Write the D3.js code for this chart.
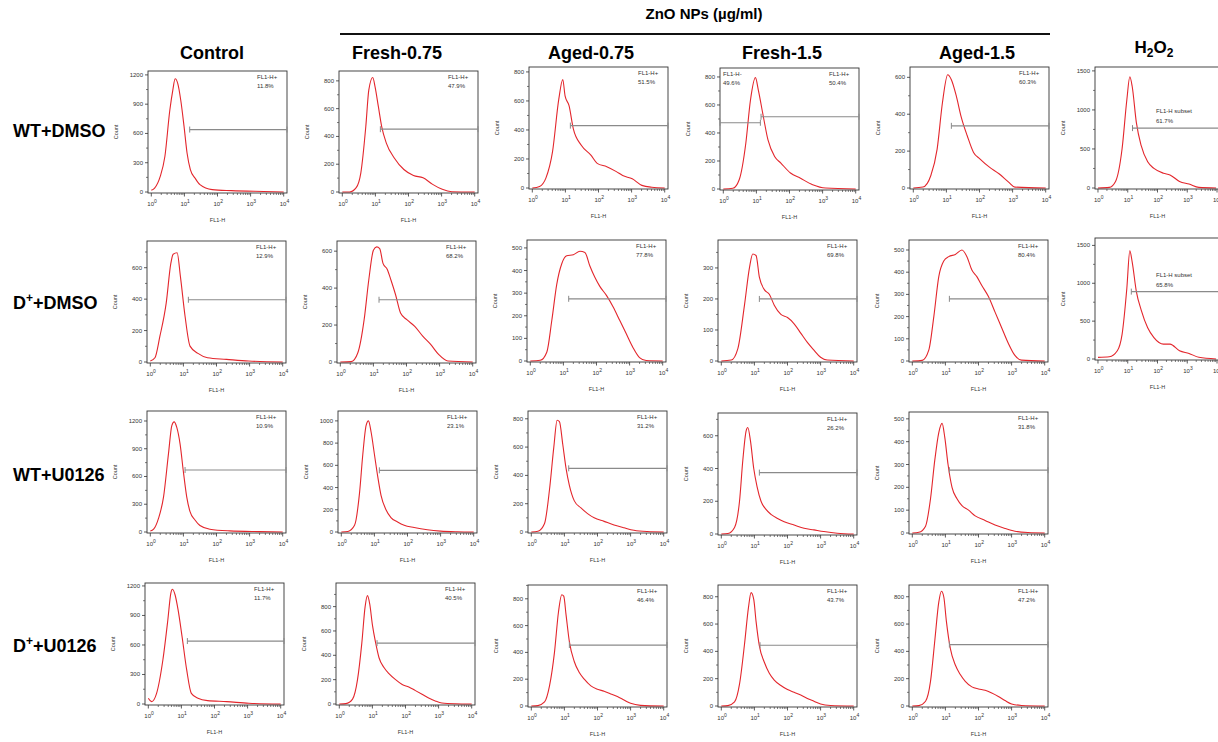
<!DOCTYPE html>
<html>
<head>
<meta charset="utf-8">
<script src="https://cdn.jsdelivr.net/npm/d3@7"></script>
<style>
  body { margin: 0; background: #fff; }
  text { font-family: "Liberation Sans", Arial, sans-serif; }
</style>
</head>
<body>
<script>
(function() {

    const width = 1218;
    const height = 742;

    // column / row headers
    const groupLabel = "ZnO NPs (µg/ml)";
    const colLabels = ["Control", "Fresh-0.75", "Aged-0.75", "Fresh-1.5", "Aged-1.5"];
    const rowLabels = [["WT", "", "+DMSO"], ["D", "+", "+DMSO"], ["WT", "", "+U0126"], ["D", "+", "+U0126"]];

    // histograms: [log10 FL1-H, count]
    const wtDmsoControl = [[0,17],[0.1,40],[0.27,160],[0.41,364],[0.56,840],[0.65,1044],[0.72,1160],[0.8,1110],[0.89,940],[0.99,670],[1.08,400],[1.18,230],[1.32,143],[1.47,75],[1.84,24],[2.42,14],[3.39,5],[4,0]];
    const wtDmsoFresh075 = [[0,0],[0.22,0],[0.42,31],[0.56,138],[0.71,471],[0.8,733],[0.92,824],[0.99,757],[1.09,614],[1.19,471],[1.33,352],[1.57,245],[1.86,162],[2.15,119],[2.44,102],[2.73,55],[3.02,19],[3.31,2],[4,0]];
    const wtDmsoAged075 = [[0,0],[0.22,11],[0.41,68],[0.61,249],[0.8,612],[0.92,748],[0.99,635],[1.11,567],[1.24,408],[1.48,295],[1.77,227],[1.96,170],[2.25,147],[2.54,113],[2.73,86],[3.02,63],[3.31,18],[3.61,5],[4,0]];
    const wtDmsoFresh15 = [[0,0],[0.29,5],[0.48,66],[0.68,327],[0.82,634],[0.97,795],[1.06,705],[1.21,516],[1.35,350],[1.55,232],[1.74,185],[2.03,114],[2.32,78],[2.7,31],[3.09,7],[4,0]];
    const wtDmsoAged15 = [[0,0],[0.29,5],[0.53,68],[0.72,211],[0.88,462],[1.04,614],[1.15,587],[1.3,498],[1.44,390],[1.63,283],[1.82,193],[2.01,158],[2.3,113],[2.59,77],[2.88,32],[3.07,5],[4,0]];
    const wtDmsoH2o2 = [[0,0],[0.38,8],[0.59,84],[0.81,503],[0.97,1131],[1.07,1425],[1.15,1300],[1.29,838],[1.45,545],[1.67,335],[1.88,251],[2.2,189],[2.42,168],[2.74,84],[3.06,50],[3.39,8],[3.97,0]];

    const dDmsoControl = [[0,6],[0.14,27],[0.29,164],[0.48,375],[0.62,627],[0.69,686],[0.81,695],[0.91,543],[1.05,291],[1.2,101],[1.44,55],[1.73,27],[2.3,17],[2.97,6],[4,0]];
    const dDmsoFresh075 = [[0,0],[0.33,2],[0.53,50],[0.72,229],[0.86,444],[1.0,605],[1.1,623],[1.19,614],[1.29,534],[1.42,501],[1.53,444],[1.67,364],[1.82,265],[2.01,229],[2.25,193],[2.49,140],[2.73,95],[2.97,41],[3.25,5],[4,0]];
    const dDmsoAged075 = [[0,0],[0.3,3],[0.5,40],[0.65,180],[0.8,340],[0.95,430],[1.1,465],[1.3,470],[1.5,485],[1.65,480],[1.8,420],[1.95,370],[2.1,330],[2.3,290],[2.5,240],[2.7,180],[2.9,120],[3.1,60],[3.3,15],[3.5,2],[4,0]];
    const dDmsoFresh15 = [[0,0],[0.3,3],[0.5,40],[0.7,180],[0.85,300],[0.95,345],[1.05,340],[1.15,270],[1.3,230],[1.45,215],[1.6,180],[1.8,150],[2.0,140],[2.2,120],[2.4,90],[2.6,60],[2.8,35],[3.0,12],[3.2,3],[4,0]];
    const dDmsoAged15 = [[0,0],[0.3,3],[0.5,50],[0.65,200],[0.8,380],[0.95,450],[1.1,470],[1.3,480],[1.5,500],[1.65,470],[1.8,410],[1.95,380],[2.1,340],[2.3,290],[2.5,220],[2.7,150],[2.9,80],[3.1,25],[3.3,4],[4,0]];
    const dDmsoH2o2 = [[0,22],[0.38,30],[0.65,109],[0.81,326],[0.97,935],[1.07,1430],[1.15,1280],[1.29,890],[1.45,650],[1.67,413],[1.88,283],[2.2,196],[2.42,196],[2.74,109],[3.06,74],[3.39,22],[3.97,0]];

    const wtU0126Control = [[0,10],[0.1,30],[0.25,150],[0.4,380],[0.55,850],[0.65,1150],[0.72,1190],[0.8,1130],[0.9,950],[1.0,650],[1.1,380],[1.2,220],[1.35,130],[1.5,70],[1.8,30],[2.4,12],[3.3,4],[4,0]];
    const wtU0126Fresh075 = [[0,0],[0.2,5],[0.4,60],[0.55,350],[0.65,700],[0.75,960],[0.82,1000],[0.9,900],[1.0,700],[1.1,500],[1.2,330],[1.35,200],[1.5,130],[1.7,90],[1.9,60],[2.2,40],[2.6,20],[3.0,8],[3.5,2],[4,0]];
    const wtU0126Aged075 = [[0,0],[0.2,5],[0.4,60],[0.55,300],[0.68,600],[0.78,790],[0.85,780],[0.95,620],[1.05,450],[1.15,330],[1.3,220],[1.5,170],[1.7,130],[1.9,100],[2.2,75],[2.5,50],[2.8,30],[3.1,12],[3.5,3],[4,0]];
    const wtU0126Fresh15 = [[0,0],[0.2,3],[0.4,40],[0.55,200],[0.65,450],[0.75,630],[0.8,650],[0.88,570],[0.98,400],[1.08,290],[1.2,200],[1.35,150],[1.5,120],[1.7,95],[1.9,75],[2.2,55],[2.5,35],[2.8,25],[3.1,15],[3.5,5],[4,0]];
    const wtU0126Aged15 = [[0,0],[0.2,3],[0.4,30],[0.55,150],[0.68,320],[0.8,440],[0.9,480],[0.98,420],[1.08,300],[1.2,200],[1.35,150],[1.5,120],[1.7,100],[1.9,75],[2.2,55],[2.5,35],[2.8,20],[3.1,8],[3.5,2],[4,0]];

    const dU0126Control = [[0,58],[0.1,24],[0.25,108],[0.44,447],[0.59,854],[0.68,1125],[0.73,1166],[0.81,1108],[0.9,956],[1.02,685],[1.16,346],[1.3,108],[1.5,58],[1.79,34],[2.37,24],[3.04,7],[4,0]];
    const dU0126Fresh075 = [[0,0],[0.2,3],[0.4,40],[0.55,200],[0.68,500],[0.78,800],[0.85,890],[0.92,820],[1.0,650],[1.1,500],[1.2,380],[1.35,300],[1.5,250],[1.7,200],[1.9,160],[2.1,140],[2.3,110],[2.5,80],[2.7,50],[2.9,25],[3.1,8],[3.5,2],[4,0]];
    const dU0126Aged075 = [[0,0],[0.2,3],[0.4,30],[0.55,150],[0.7,400],[0.82,700],[0.92,830],[0.98,820],[1.05,680],[1.15,480],[1.3,330],[1.45,250],[1.6,200],[1.8,150],[2.0,125],[2.2,110],[2.4,90],[2.6,70],[2.8,45],[3.0,20],[3.3,5],[4,0]];
    const dU0126Fresh15 = [[0,0],[0.2,3],[0.4,30],[0.55,160],[0.7,450],[0.82,720],[0.9,830],[0.98,780],[1.05,620],[1.15,440],[1.3,320],[1.45,240],[1.6,190],[1.8,150],[2.0,120],[2.2,100],[2.4,80],[2.6,55],[2.8,35],[3.0,15],[3.3,4],[4,0]];
    const dU0126Aged15 = [[0,0],[0.2,3],[0.4,35],[0.55,180],[0.68,480],[0.8,760],[0.88,840],[0.95,800],[1.03,620],[1.15,420],[1.3,300],[1.45,230],[1.6,180],[1.8,140],[2.0,125],[2.2,115],[2.4,95],[2.6,70],[2.8,40],[3.0,15],[3.3,4],[4,0]];

    // y axis top value and tick step per panel
    const yTopWtDmso = [1240, 871, 834, 864, 656, 1550];
    const yStepWtDmso = [300, 200, 200, 200, 200, 500];
    const yTopDDmso = [770, 655, 535, 390, 545, 1598];
    const yStepDDmso = [200, 200, 100, 100, 100, 500];
    const yTopWtU0126 = [1308, 1089, 855, 739, 530];
    const yStepWtU0126 = [300, 200, 200, 200, 100];
    const yTopDU0126 = [1230, 994, 903, 886, 886];
    const yStepDU0126 = [300, 200, 200, 200, 200];

    // gates: [from, to, count level]; positive-gate percentages
    const gateWtDmso = [[[1.16,4.1,640]], [[1.15,4.1,452]], [[1.15,4.1,430]], [[-0.1,1.12,473],[1.14,4.1,516]], [[1.15,4.1,337]], [[1.16,4.1,767]]];
    const pctWtDmso = ["11.8%", "47.9%", "51.5%", "50.4%", "60.3%", "61.7%"];
    const gateDDmso = [[[1.15,4.1,396]], [[1.17,4.1,337]], [[1.16,4.1,275]], [[1.15,4.1,200]], [[1.12,4.1,280]], [[1.12,4.1,890]]];
    const pctDDmso = ["12.9%", "68.2%", "77.8%", "69.8%", "80.4%", "65.8%"];
    const gateWtU0126 = [[[1.05,4.1,670]], [[1.15,4.1,555]], [[1.13,4.1,450]], [[1.15,4.1,375]], [[1.12,4.1,275]]];
    const pctWtU0126 = ["10.9%", "23.1%", "31.2%", "26.2%", "31.8%"];
    const gateDU0126 = [[[1.18,4.1,640]], [[1.14,4.1,500]], [[1.15,4.1,455]], [[1.17,4.1,445]], [[1.12,4.1,450]]];
    const pctDU0126 = ["11.7%", "40.5%", "46.4%", "43.7%", "47.2%"];
    const negPctWtDmsoFresh15 = "49.6%";

    const rowsData = [
        { curves: [wtDmsoControl, wtDmsoFresh075, wtDmsoAged075, wtDmsoFresh15, wtDmsoAged15, wtDmsoH2o2], yTop: yTopWtDmso, yStep: yStepWtDmso, gates: gateWtDmso, pct: pctWtDmso },
        { curves: [dDmsoControl, dDmsoFresh075, dDmsoAged075, dDmsoFresh15, dDmsoAged15, dDmsoH2o2], yTop: yTopDDmso, yStep: yStepDDmso, gates: gateDDmso, pct: pctDDmso },
        { curves: [wtU0126Control, wtU0126Fresh075, wtU0126Aged075, wtU0126Fresh15, wtU0126Aged15], yTop: yTopWtU0126, yStep: yStepWtU0126, gates: gateWtU0126, pct: pctWtU0126 },
        { curves: [dU0126Control, dU0126Fresh075, dU0126Aged075, dU0126Fresh15, dU0126Aged15], yTop: yTopDU0126, yStep: yStepDU0126, gates: gateDU0126, pct: pctDU0126 }
    ];

    // panel frame layout
    const frameLeft = [[148,339,529,720,910,1095],[147,337,527,718,909,1095],[147,338,528,718,909],[145,336,528,718,909]];
    const frameTop = [[71,71,67,68,67,67],[241,241,240,240,240,238],[411,411,411,413,412],[583,583,585,585,585]];
    const panelH = 122;

    const red = "#e3262c";

    let svg = d3.select("body").append("svg")
        .attr("width", width)
        .attr("height", height);

    // group header
    svg.append("text")
        .attr("x", 704).attr("y", 19)
        .attr("text-anchor", "middle")
        .style("font-size", "15px").style("font-weight", "bold")
        .text(groupLabel);
    svg.append("line")
        .attr("x1", 340).attr("x2", 1050)
        .attr("y1", 34).attr("y2", 34)
        .style("stroke", "#111").style("stroke-width", 2.2);

    const colCenters = [212, 397, 591, 782, 977];
    colLabels.forEach((c, i) => {
        svg.append("text")
            .attr("x", colCenters[i]).attr("y", 59)
            .attr("text-anchor", "middle")
            .style("font-size", "18px").style("font-weight", "bold")
            .text(c);
    });

    // H2O2 header with subscripts
    let h2 = svg.append("text")
        .attr("x", 1154).attr("y", 53)
        .attr("text-anchor", "middle")
        .style("font-size", "17px").style("font-weight", "bold");
    h2.append("tspan").text("H");
    h2.append("tspan").attr("dy", 4).style("font-size", "12px").text("2");
    h2.append("tspan").attr("dy", -4).text("O");
    h2.append("tspan").attr("dy", 4).style("font-size", "12px").text("2");

    const rowBase = [137, 309, 481, 652];
    rowLabels.forEach((r, i) => {
        let t = svg.append("text")
            .attr("x", 13).attr("y", rowBase[i])
            .style("font-size", "18px").style("font-weight", "bold");
        t.append("tspan").text(r[0]);
        if (r[1]) {
            t.append("tspan").attr("dy", -7).style("font-size", "12px").text(r[1]);
            t.append("tspan").attr("dy", 7).text(r[2]);
        } else {
            t.append("tspan").text(r[2]);
        }
    });

    function drawPanel(left, top, w, h, curve, yTop, yStep, gates, pct, col, rowIdx) {
        let g = svg.append("g").attr("transform", "translate(" + left + "," + top + ")");

        let x = d3.scaleLinear().domain([-0.1, 4.1]).range([0, w]);
        let y = d3.scaleLinear().domain([0, yTop]).range([h - 1, 0]);

        // curve
        let line = d3.line()
            .x(d => x(d[0]))
            .y(d => y(d[1]))
            .curve(d3.curveMonotoneX);
        g.append("path")
            .datum(curve)
            .attr("d", line)
            .style("fill", "none")
            .style("stroke", red)
            .style("stroke-width", 1.1);

        // frame
        g.append("rect")
            .attr("width", w).attr("height", h)
            .style("fill", "none")
            .style("stroke", "#333")
            .style("stroke-width", 0.9);

        // y axis
        let yTicks = d3.range(0, yTop + 1, yStep);
        let yMinor = d3.range(yStep / 2, yTop, yStep);
        g.selectAll(".ymin").data(yMinor).enter().append("line")
            .attr("x1", -2).attr("x2", 0)
            .attr("y1", d => y(d)).attr("y2", d => y(d))
            .style("stroke", "#444").style("stroke-width", 0.7);
        g.selectAll(".ytk").data(yTicks).enter().append("line")
            .attr("x1", -3).attr("x2", 0)
            .attr("y1", d => y(d)).attr("y2", d => y(d))
            .style("stroke", "#333").style("stroke-width", 0.8);
        g.selectAll(".ylab").data(yTicks).enter().append("text")
            .attr("x", -5).attr("y", d => y(d) + 2)
            .attr("text-anchor", "end")
            .style("font-size", "6px").style("fill", "#333")
            .text(d => d);

        // x axis: decades with minor ticks
        let minor = [];
        for (let dcd = 0; dcd < 4; dcd++) {
            for (let k = 2; k <= 9; k++) minor.push(dcd + Math.log10(k));
        }
        g.selectAll(".xmin").data(minor).enter().append("line")
            .attr("x1", d => x(d)).attr("x2", d => x(d))
            .attr("y1", h).attr("y2", h + 2)
            .style("stroke", "#444").style("stroke-width", 0.7);
        let majors = [0, 1, 2, 3, 4];
        g.selectAll(".xtk").data(majors).enter().append("line")
            .attr("x1", d => x(d)).attr("x2", d => x(d))
            .attr("y1", h).attr("y2", h + 3.5)
            .style("stroke", "#333").style("stroke-width", 0.8);
        majors.forEach(d => {
            let t = g.append("text")
                .attr("x", x(d) - 4).attr("y", h + 13)
                .style("font-size", "6px").style("fill", "#333");
            t.append("tspan").text("10");
            t.append("tspan").attr("dy", -3.5).style("font-size", "5px").text(d);
        });

        g.append("text")
            .attr("x", w / 2).attr("y", h + 29)
            .attr("text-anchor", "middle")
            .style("font-size", "5.5px").style("fill", "#333")
            .text("FL1-H");
        g.append("text")
            .attr("transform", "translate(" + (-30) + "," + (h / 2) + ") rotate(-90)")
            .attr("text-anchor", "middle")
            .style("font-size", "5.5px").style("fill", "#333")
            .text("Count");

        // gates
        gates.forEach(gt => {
            let x1 = Math.max(0, x(gt[0]));
            let x2 = Math.min(w, x(gt[1]));
            let gy = y(gt[2]);
            g.append("line")
                .attr("x1", x1).attr("x2", x2).attr("y1", gy).attr("y2", gy)
                .style("stroke", "#8a8a8a").style("stroke-width", 1.2);
            [x1, x2].forEach(xx => {
                g.append("line")
                    .attr("x1", xx).attr("x2", xx).attr("y1", gy - 3).attr("y2", gy + 3)
                    .style("stroke", "#8a8a8a").style("stroke-width", 1);
            });
        });

        // gate labels
        if (col === 5) {
            let gy = y(gates[0][2]);
            g.append("text").attr("x", 61).attr("y", gy - 15)
                .style("font-size", "6px").style("fill", "#333").text("FL1-H subset");
            g.append("text").attr("x", 61).attr("y", gy - 5)
                .style("font-size", "6px").style("fill", "#333").text(pct);
        } else {
            g.append("text").attr("x", w - 30).attr("y", 8)
                .style("font-size", "6px").style("fill", "#333").text("FL1-H+");
            g.append("text").attr("x", w - 30).attr("y", 17)
                .style("font-size", "6px").style("fill", "#333").text(pct);
            if (gates.length > 1) {
                g.append("text").attr("x", 3).attr("y", 8)
                    .style("font-size", "6px").style("fill", "#333").text("FL1-H-");
                g.append("text").attr("x", 3).attr("y", 17)
                    .style("font-size", "6px").style("fill", "#333").text(negPctWtDmsoFresh15);
            }
        }
    }

    rowsData.forEach((row, r) => {
        row.curves.forEach((curve, c) => {
            let w = c === 5 ? 125 : 139;
            drawPanel(frameLeft[r][c], frameTop[r][c], w, panelH, curve,
                row.yTop[c], row.yStep[c], row.gates[c], row.pct[c], c, r);
        });
    });

})();
</script>
</body>
</html>
